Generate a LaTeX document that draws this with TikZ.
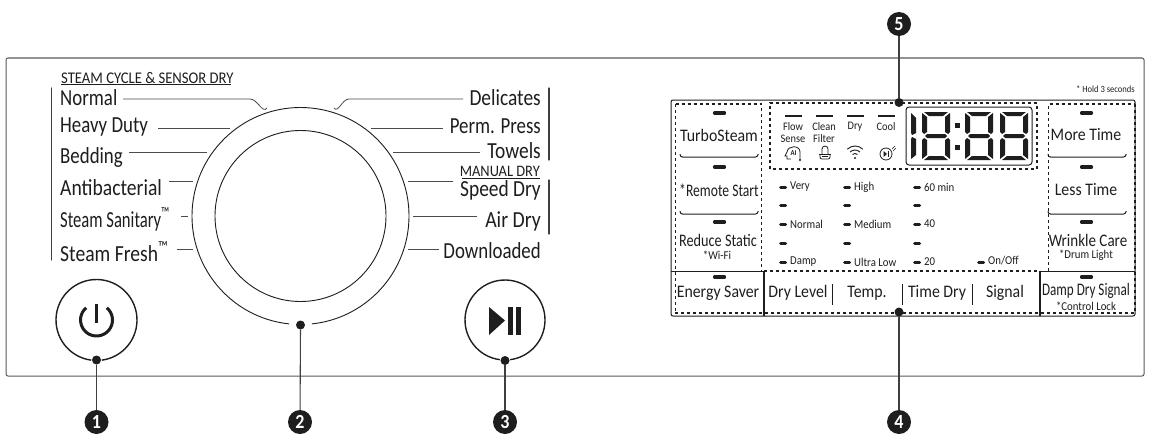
\documentclass[tikz,border=0pt]{standalone}
\usepackage{graphicx}
\usepackage{fontspec}
\setmainfont[FakeStretch=0.9]{Carlito}
\newfontfamily\labelfam[FakeStretch=0.82]{Carlito}
\usetikzlibrary{calc}
\definecolor{ink}{HTML}{1E1E1E}
\definecolor{frame}{HTML}{5A5A5A}
\newcommand{\narrowed}[2]{\scalebox{#1}[1]{#2}}
\tikzset{
  lbl/.style={inner sep=0pt,text=ink,font=\labelfam\fontsize{23}{23}\selectfont},
  lblL/.style={lbl,anchor=west},
  lblR/.style={lbl,anchor=east},
  small/.style={inner sep=0pt,text=ink,font=\fontsize{12}{12}\selectfont,anchor=west},
  mini/.style={inner sep=0pt,text=ink,font=\fontsize{11.5}{11.5}\selectfont,align=center},
  btn/.style={inner sep=0pt,text=ink,font=\fontsize{17.6}{18}\selectfont},
  sub/.style={inner sep=0pt,text=ink,font=\fontsize{12}{12}\selectfont},
  hdr/.style={inner sep=0pt,text=ink,font=\fontsize{16.3}{16}\selectfont},
  leader/.style={draw=ink!80,line width=0.8pt},
  ring/.style={draw=ink,line width=0.9pt},
  ringb/.style={draw=ink,line width=1.4pt},
  bracket/.style={draw=ink!85,line width=1.3pt,line cap=round},
  dotline/.style={draw=ink,line width=1.5pt,dash pattern=on 3pt off 3pt},
  solidline/.style={draw=ink,line width=1pt},
  thickline/.style={draw=ink,line width=1.8pt},
  sep/.style={draw=ink,line width=1pt},
  led/.style={draw=ink,line width=3.2pt,line cap=round},
  gridled/.style={draw=ink,line width=3pt,line cap=round},
  badge/.style={circle,fill=ink,text=white,minimum size=24pt,inner sep=0pt,font=\bfseries\fontsize{20}{20}\selectfont},
  pin/.style={circle,fill=ink,minimum size=9pt,inner sep=0pt},
  conn/.style={draw=ink!85,line width=1.1pt},
  seg/.style={fill=ink,draw=none},
}
\newcommand{\hdigit}[1]{%
 \begin{scope}[shift={(#1,0)}]
  \fill[seg] (2,112)--(26,112)--(21,116)--(7,116)--cycle;
  \fill[seg] (2,160)--(26,160)--(21,156)--(7,156)--cycle;
  \fill[seg] (5,134)--(23,134)--(25,136)--(23,138)--(5,138)--(3,136)--cycle;
  \fill[seg] (0,113)--(5,117)--(5,132)--(2,134)--(0,132)--cycle;
  \fill[seg] (28,113)--(23,117)--(23,132)--(26,134)--(28,132)--cycle;
  \fill[seg] (0,140)--(2,138)--(5,140)--(5,155)--(0,159)--cycle;
  \fill[seg] (28,140)--(26,138)--(23,140)--(23,155)--(28,159)--cycle;
 \end{scope}}
\begin{document}
\begin{tikzpicture}[x=1pt,y=-1pt]
\useasboundingbox (0,0) rectangle (1155,436);
\fill[white] (0,0) rectangle (1155,436);

% outer panel
\draw[frame,line width=1pt,rounded corners=2pt] (6,58) rectangle (1144,376);

% dial
\coordinate (dc) at (300.5,216);
\draw[ring] (dc) ++(96:108.5) arc[start angle=96,end angle=444,radius=108.5];
\draw[ring] (dc) circle[radius=85.5];

% power + start
\coordinate (pwc) at (96.5,320);
\coordinate (plc) at (505,320);
\draw[ringb] (pwc) ++(97.5:40.5) arc[start angle=97.5,end angle=442.5,radius=40.5];
\draw[ringb] (plc) ++(97.5:40) arc[start angle=97.5,end angle=442.5,radius=40];
\draw[draw=ink,line width=3pt] (96.5,304) -- (96.5,323);
\draw[draw=ink,line width=3pt] (pwc) ++(-50:16) arc[start angle=-50,end angle=230,radius=16];
\fill[ink] (489,307) -- (505,320.5) -- (489,335) -- cycle;
\fill[ink] (508,307) rectangle (513,335);
\fill[ink] (516,307) rectangle (521,335);

% pins and badges
\node[pin] (p1) at (96.5,360) {};
\node[pin] (p2) at (300.5,325) {};
\node[pin] (p3) at (505,360.5) {};
\node[pin] (p4) at (899,312) {};
\node[pin] (p5) at (899,102.5) {};
\node[badge] (b1) at (96.5,422) {1};
\node[badge] (b2) at (300,422) {2};
\node[badge] (b3) at (505,422) {3};
\node[badge] (b4) at (899,422) {4};
\node[badge] (b5) at (899,24) {5};
\draw[conn] (p1) -- (b1);
\draw[conn] (p2) -- (b2);
\draw[conn] (p3) -- (b3);
\draw[conn] (p4) -- (b4);
\draw[conn] (p5) -- (b5);

% left labels
\node[hdr,anchor=west] (hs) at (61,78) {STEAM CYCLE \& SENSOR DRY};
\draw[ink,line width=0.9pt] (61,84.5) -- (231,84.5);
\draw[bracket] (51.5,88) -- (51.5,260);
\node[lblL] (n1) at (60,98) {Normal};
\node[lblL] (n2) at (60,127) {Heavy Duty};
\node[lblL] (n3) at (60,157) {Bedding};
\node[lblL] (n4) at (60,188) {\narrowed{1.04}{Antibacterial}};
\node[lblL] (n5) at (60,219) {\narrowed{0.88}{Steam Sanitary\textsuperscript{™}}};
\node[lblL] (n6) at (60,252) {\narrowed{1.04}{Steam Fresh\textsuperscript{™}}};

\draw[leader] (123,99) -- (250,99) to[out=0,in=-125] (267,108);
\draw[leader] (158,128) -- (230,128);
\draw[leader] (129,152) -- (207,152);
\draw[leader] (169,181) -- (193,181);
\draw[leader] (181,216) -- (188,216);
\draw[leader] (177,249) -- (193,249);

% right labels
\node[lblR] (m1) at (541,98) {\narrowed{1.03}{Delicates}};
\node[lblR] (m2) at (541,126) {Perm. Press};
\node[lblR] (m3) at (541,151) {\narrowed{1.03}{Towels}};
\node[hdr,anchor=east,font=\fontsize{16}{16}\selectfont] (hm) at (540,171) {MANUAL DRY};
\draw[ink,line width=0.9pt] (462,178) -- (540,178);
\node[lblR] (m4) at (541,190) {\narrowed{1.03}{Speed Dry}};
\node[lblR] (m5) at (541,221) {\narrowed{1.05}{Air Dry}};
\node[lblR] (m6) at (541,251) {Downloaded};
\draw[bracket] (549,88) -- (549,160);
\draw[bracket] (549,180) -- (549,234);

\draw[leader] (463,99) -- (349,99) to[out=180,in=-55] (334,108);
\draw[leader] (443,128) -- (371,128);
\draw[leader] (480,152) -- (393,152);
\draw[leader] (453,181) -- (408,181);
\draw[leader] (477,216) -- (413,216);
\draw[leader] (439,249) -- (408,249);

% control display frame
\draw[solidline,rounded corners=2pt] (671,100) -- (1135,100) -- (1135,316) -- (671,316) -- cycle;
\draw[dotline] (675.5,104) -- (761.5,104) -- (761.5,271);
\draw[dotline] (675.5,104) -- (675.5,313);
\draw[dotline] (1048.5,271) -- (1048.5,104) -- (1135,104);
\draw[dotline] (1135,104) -- (1135,313);
\draw[dotline] (770,169) -- (770,103) -- (1037,103) -- (1037,169) -- cycle;
\draw[dotline] (764,271) -- (1040,271);
\draw[dotline] (675,313) -- (1135,313);
\draw[solidline] (671,271) -- (764,271);
\draw[solidline] (1040,271) -- (1135,271);
\draw[thickline] (764,271) -- (764,316);
\draw[thickline] (1040,271) -- (1040,316);
\draw[sep] (832,284) -- (832,305);
\draw[sep] (902,284) -- (902,305);
\draw[sep] (972,284) -- (972,305);

% button underlines
\foreach \yy in {157,214} {
  \draw[solidline,rounded corners=2.5pt] (680,\yy-3) -- (680,\yy) -- (758,\yy) -- (758,\yy-3);
  \draw[solidline,rounded corners=2.5pt] (1048,\yy-3) -- (1048,\yy) -- (1126,\yy) -- (1126,\yy-3);
}
% button LEDs
\foreach \yy in {113,167,222,277} {
  \draw[led] (714.5,\yy) -- (724.5,\yy);
  \draw[led] (1081.5,\yy) -- (1091.5,\yy);
}
% buttons
\node[btn] (t1) at (719,135) {TurboSteam};
\node[btn] (t2) at (719,190) {\narrowed{0.86}{*Remote Start}};
\node[btn] (t3) at (718,240) {\narrowed{0.9}{Reduce Static}};
\node[sub] (t3s) at (717,255) {*Wi-Fi};
\node[btn] (t4) at (718,293) {Energy Saver};
\node[btn] (r1) at (1086,135) {More Time};
\node[btn] (r2) at (1086,190) {Less Time};
\node[btn] (r3) at (1088,240) {\narrowed{0.95}{Wrinkle Care}};
\node[sub] (r3s) at (1086,255) {*Drum Light};
\node[btn] (r4) at (1086,291) {\narrowed{0.83}{Damp Dry Signal}};
\node[sub] (r4s) at (1086,306) {*Control Lock};
\node[btn] (c1) at (798,293) {Dry Level};
\node[btn] (c2) at (867,293) {Temp.};
\node[btn] (c3) at (937,293) {Time Dry};
\node[btn] (c4) at (1005,293) {Signal};
\node[inner sep=0pt,text=ink,font=\fontsize{9.5}{9.5}\selectfont,anchor=east] (hold) at (1135,89) {* Hold 3 seconds};

% top status strip
\foreach \xx in {785,816,847,878} \draw[ink,line width=2.5pt] (\xx,116) -- ++(17,0);
\node[mini] (s1) at (793,132.5) {Flow\\Sense};
\node[mini] (s2) at (824,132.5) {Clean\\Filter};
\node[mini] (s3) at (855,127) {Dry};
\node[mini] (s4) at (886,127) {Cool};

% icons
\draw[ink,line width=0.8pt] (791,159) -- (787,159) -- (787,156) -- (785,156) -- (787,152) .. controls (788,145) and (800,145) .. (800,152) -- (800,160);
\fill[ink] (800,160) circle[radius=1.2];
\node[inner sep=0pt,font=\bfseries\fontsize{7.5}{7.5}\selectfont,text=ink] (ai) at (793.5,153.5) {AI};
\draw[ink,line width=0.8pt] (822,154) -- (822,149) arc[start angle=180,end angle=360,radius=3] -- (828,154);
\draw[ink,line width=0.8pt] (819,154) -- (831,154);
\draw[ink,line width=0.8pt,rounded corners=2pt] (820,154) -- (820,159) -- (830,159) -- (830,154);
\draw[ink,line width=0.8pt] (822,156.5) -- (828,156.5);
\draw[ink,line width=0.9pt] (855,157) ++(-135:11) arc[start angle=-135,end angle=-45,radius=11];
\draw[ink,line width=0.9pt] (855,157) ++(-135:7) arc[start angle=-135,end angle=-45,radius=7];
\draw[ink,line width=0.9pt] (855,157) ++(-135:3.5) arc[start angle=-135,end angle=-45,radius=3.5];
\fill[ink] (855,158) circle[radius=1.1];
\draw[ink,line width=0.8pt] (886,154) circle[radius=6];
\fill[ink] (883.5,151) -- (887,154) -- (883.5,157) -- cycle;
\fill[ink] (887.5,151) rectangle (888.5,157);
\draw[ink,line width=0.6pt] (892,149) -- (895,146);
\draw[ink,line width=0.6pt] (893,151) -- (896,148);

% seven segment display
\draw[ink,line width=1pt,rounded corners=3pt] (906,107) rectangle (1032,165);
\fill[seg] (911,113) -- (916,118) -- (916,133) -- (912,135) -- (911,133) -- cycle;
\fill[seg] (911,139) -- (912,137) -- (916,139) -- (916,155) -- (911,159) -- cycle;
\hdigit{922}
\hdigit{965}
\hdigit{1000}
\fill[seg] (955,123) rectangle (960,128);
\fill[seg] (955,145) rectangle (960,150);

% indicator grid
\foreach \xx in {780.5,844.5,914.5}
  \foreach \yy in {187,205,224,243,262}
    \draw[gridled] (\xx,\yy) -- ++(5,0);
\draw[gridled] (978.5,262) -- ++(5,0);
\node[small] (g1) at (790,187) {Very};
\node[small] (g2) at (790,224) {Normal};
\node[small] (g3) at (790,262) {Damp};
\node[small] (g4) at (854,187) {High};
\node[small] (g5) at (854,224) {Medium};
\node[small] (g6) at (854,262) {Ultra Low};
\node[small] (g7) at (924,187) {60 min};
\node[small] (g8) at (924,224) {40};
\node[small] (g9) at (924,262) {20};
\node[small] (g10) at (988,261) {On/Off};
\end{tikzpicture}
\end{document}
